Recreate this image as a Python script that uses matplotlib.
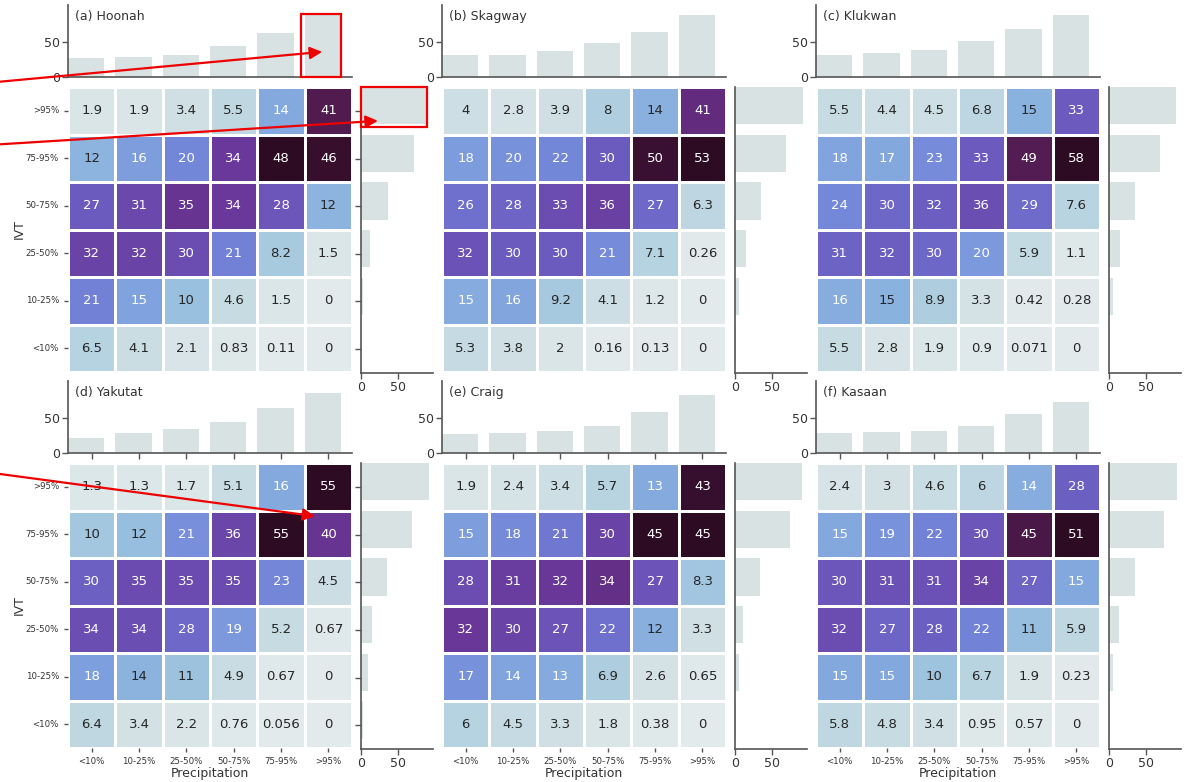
import numpy as np
import matplotlib
matplotlib.use('Agg')
import matplotlib.pyplot as plt
from matplotlib.colors import LinearSegmentedColormap
from matplotlib.patches import Rectangle
import seaborn as sns

CATS = ['<10%', '10-25%', '25-50%', '50-75%', '75-95%', '>95%']
IVT_CATS = CATS[::-1]  # heatmap rows run from >95% down to <10%
SITES = ['(a) Hoonah', '(b) Skagway', '(c) Klukwan',
         '(d) Yakutat', '(e) Craig', '(f) Kasaan']

# joint frequency (%), rows = IVT bins (top to bottom), cols = precip bins
hoonah = [[1.9, 1.9, 3.4, 5.5, 14, 41],
          [12, 16, 20, 34, 48, 46],
          [27, 31, 35, 34, 28, 12],
          [32, 32, 30, 21, 8.2, 1.5],
          [21, 15, 10, 4.6, 1.5, 0],
          [6.5, 4.1, 2.1, 0.83, 0.11, 0]]
skagway = [[4, 2.8, 3.9, 8, 14, 41],
           [18, 20, 22, 30, 50, 53],
           [26, 28, 33, 36, 27, 6.3],
           [32, 30, 30, 21, 7.1, 0.26],
           [15, 16, 9.2, 4.1, 1.2, 0],
           [5.3, 3.8, 2, 0.16, 0.13, 0]]
klukwan = [[5.5, 4.4, 4.5, 6.8, 15, 33],
           [18, 17, 23, 33, 49, 58],
           [24, 30, 32, 36, 29, 7.6],
           [31, 32, 30, 20, 5.9, 1.1],
           [16, 15, 8.9, 3.3, 0.42, 0.28],
           [5.5, 2.8, 1.9, 0.9, 0.071, 0]]
yakutat = [[1.3, 1.3, 1.7, 5.1, 16, 55],
           [10, 12, 21, 36, 55, 40],
           [30, 35, 35, 35, 23, 4.5],
           [34, 34, 28, 19, 5.2, 0.67],
           [18, 14, 11, 4.9, 0.67, 0],
           [6.4, 3.4, 2.2, 0.76, 0.056, 0]]
craig = [[1.9, 2.4, 3.4, 5.7, 13, 43],
         [15, 18, 21, 30, 45, 45],
         [28, 31, 32, 34, 27, 8.3],
         [32, 30, 27, 22, 12, 3.3],
         [17, 14, 13, 6.9, 2.6, 0.65],
         [6, 4.5, 3.3, 1.8, 0.38, 0]]
kasaan = [[2.4, 3, 4.6, 6, 14, 28],
          [15, 19, 22, 30, 45, 51],
          [30, 31, 31, 34, 27, 15],
          [32, 27, 28, 22, 11, 5.9],
          [15, 15, 10, 6.7, 1.9, 0.23],
          [5.8, 4.8, 3.4, 0.95, 0.57, 0]]

# marginal bars: % per precip bin (top) and per IVT bin (right, >95% first)
precip_marg = [[27, 29, 31, 44, 63, 89],
               [31, 31, 37, 48, 64, 89],
               [32, 35, 38, 51, 68, 88],
               [22, 29, 35, 45, 64, 86],
               [27, 29, 31, 39, 58, 83],
               [28, 30, 32, 38, 56, 73]]
ivt_marg = [[89, 72, 37, 12.5, 3, 0.5],
            [93, 69, 36, 15, 5, 1],
            [91, 70, 35.5, 14.5, 5.5, 1],
            [92, 70, 35, 15, 9, 3],
            [91, 75, 34, 11, 5, 1],
            [93, 75, 35, 14, 5, 1]]

grids = [hoonah, skagway, klukwan, yakutat, craig, kasaan]

cmap = LinearSegmentedColormap.from_list('ar_freq', [
    (0.00, '#e2eaeb'), (0.05, '#d6e3e6'), (0.10, '#c4dae2'),
    (0.15, '#afcfe0'), (0.20, '#9cc2de'), (0.25, '#8cb4de'),
    (0.30, '#82a6de'), (0.35, '#7b98dd'), (0.42, '#7386d8'),
    (0.50, '#6e6ccb'), (0.56, '#6c5cc0'), (0.63, '#6b4cb0'),
    (0.71, '#69389a'), (0.78, '#622a7c'), (0.85, '#521c52'),
    (0.93, '#3e1236'), (1.00, '#2d0b22')])
BAR_C = '#d9e2e3'
SPINE_C = '#555555'
TXT_C = '#333333'

W, H = 1185, 782
fig = plt.figure(figsize=(W / 100, H / 100), dpi=100)


def px_rect(left, top, w, h):
    return [left / W, 1 - (top + h) / H, w / W, h / H]


col_left = [68, 442, 816]
row_top = [87, 463]
HM_W, HM_H = 284, 285

axes_top = []
axes_right = []
axes_hm = []
for k, (name, grid) in enumerate(zip(SITES, grids)):
    r, c = divmod(k, 3)
    x0, y0 = col_left[c], row_top[r]
    data = np.array(grid, dtype=float)

    ax = fig.add_axes(px_rect(x0, y0, HM_W, HM_H))
    sns.heatmap(data, ax=ax, cmap=cmap, vmin=0, vmax=data.max(), cbar=False,
                annot=True, fmt='.2g', annot_kws={'size': 9.5},
                linewidths=1, linecolor='white',
                xticklabels=CATS, yticklabels=IVT_CATS)
    ax.tick_params(axis='both', labelsize=6.2, colors=SPINE_C, labelcolor=TXT_C,
                   length=3, width=1)
    plt.setp(ax.get_yticklabels(), rotation=0)
    plt.setp(ax.get_xticklabels(), rotation=0)
    if c == 0:
        ax.set_ylabel('IVT', fontsize=9, color=TXT_C, labelpad=0)
    else:
        ax.set_yticks([])
    if r == 1:
        ax.set_xlabel('Precipitation', fontsize=9, color=TXT_C, labelpad=1)
    else:
        ax.set_xticks([])

    # top marginal: precip bins
    axt = fig.add_axes(px_rect(x0, y0 - 82, HM_W, 72))
    axt.bar(np.arange(6), precip_marg[k], width=0.77, align='edge', color=BAR_C)
    axt.set_xlim(0, 6)
    axt.set_ylim(0, 103)
    axt.set_yticks([0, 50])
    if r == 1:
        axt.set_xticks(np.arange(6) + 0.5)
        axt.set_xticklabels([])
    else:
        axt.set_xticks([])
    axt.text(0.025, 0.93, name, transform=axt.transAxes, ha='left', va='top',
             fontsize=9, color=TXT_C)

    # right marginal: IVT bins
    axr = fig.add_axes(px_rect(x0 + 293, y0, 72, HM_H + 1))
    axr.barh(np.arange(6), ivt_marg[k], height=0.78, align='edge', color=BAR_C)
    axr.set_ylim(6, 0)
    axr.set_xlim(0, 98)
    axr.set_xticks([0, 50])
    if c == 0:
        axr.set_yticks(np.arange(6) + 0.5)
        axr.set_yticklabels([])
    else:
        axr.set_yticks([])

    for a in (axt, axr):
        a.spines[['top', 'right']].set_visible(False)
        a.spines[['left', 'bottom']].set_color(SPINE_C)
        a.spines[['left', 'bottom']].set_linewidth(1.2)
        a.tick_params(labelsize=9, colors=SPINE_C, labelcolor=TXT_C,
                      length=4, width=1, pad=2)
        a.set_facecolor('none')

    axes_top.append(axt)
    axes_right.append(axr)
    axes_hm.append(ax)

# highlight the >95% bars and cells in red
RED = '#ee0000'
axes_top[0].add_patch(Rectangle((4.93, 0), 0.83, 90.5, fill=False, ec=RED,
                                lw=1.6, clip_on=False, zorder=5))
axes_right[0].add_patch(Rectangle((0, -0.01), 90.5, 0.85, fill=False, ec=RED,
                                  lw=1.6, clip_on=False, zorder=5))

arrow = dict(arrowstyle='-|>', color=RED, lw=1.6, mutation_scale=18,
             shrinkA=0, shrinkB=0)
axes_top[0].annotate('', xy=(5.37, 36), xycoords='data',
                     xytext=(0, 1 - 81.7 / H), textcoords='figure fraction',
                     arrowprops=arrow, annotation_clip=False)
axes_right[0].annotate('', xy=(23, 0.71), xycoords='data',
                       xytext=(0, 1 - 144.3 / H), textcoords='figure fraction',
                       arrowprops=arrow, annotation_clip=False)
axes_hm[3].annotate('', xy=(5.22, 1.12), xycoords='data',
                    xytext=(0, 1 - 474 / H), textcoords='figure fraction',
                    arrowprops=arrow, annotation_clip=False)

fig.savefig('out.png', dpi=100)
